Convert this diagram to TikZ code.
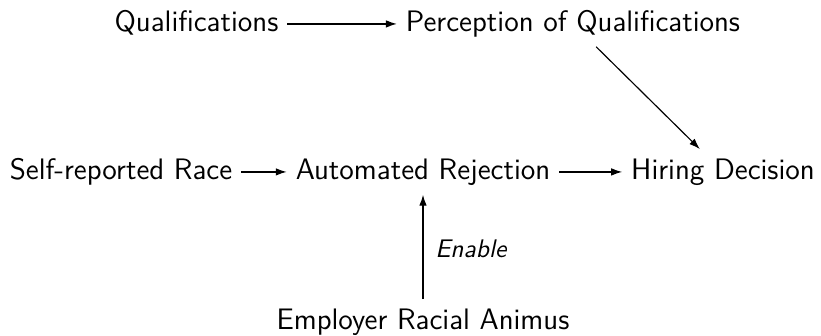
\documentclass[tikz,border=0pt]{standalone}
\usetikzlibrary{arrows.meta}
\begin{document}
\begin{tikzpicture}[x=0.385pt,y=-0.385pt,
  lbl/.style={font=\fontsize{11.4}{13}\sffamily\selectfont, anchor=base, text height=8.4pt, text depth=2.2pt, inner sep=3.3pt},
  arr/.style={-{Latex[length=4.2pt,width=2.9pt]}, line width=0.45pt},
  edgelbl/.style={font=\fontsize{9.8}{11}\sffamily\itshape\selectfont, inner sep=4.5pt}]
\useasboundingbox (0,0) rectangle (821,336);
\node[lbl] (qual) at (196.5,32) {Qualifications};
\node[lbl] (perc) at (573,32) {Perception of Qualifications};
\node[lbl] (race) at (121,180) {Self-reported Race};
\node[lbl] (auto) at (423,180) {Automated Rejection};
\node[lbl] (hire) at (723,180) {Hiring Decision};
\node[lbl] (emp) at (423,330) {Employer Racial Animus};
\draw[arr] (qual) -- (perc);
\draw[arr] (race) -- (auto);
\draw[arr] (auto) -- (hire);
\draw[arr] (perc) -- (hire);
\draw[arr] (emp) -- node[right, edgelbl, pos=0.48] {Enable} (auto);
\end{tikzpicture}
\end{document}
